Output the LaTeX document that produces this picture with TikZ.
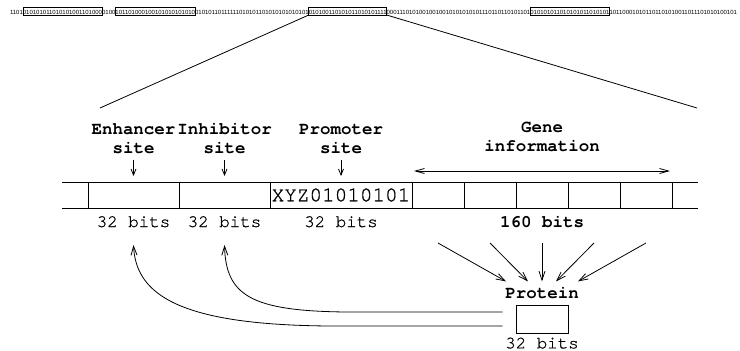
\documentclass[tikz,border=0pt]{standalone}
\usepackage{fontspec}
\setmonofont{texgyrecursor}[Extension=.otf,UprightFont=*-regular,BoldFont=*-bold,UprightFeatures={FakeBold=0.8}]
\newfontfamily\bitsfont{Liberation Sans}
\usetikzlibrary{arrows.meta,calc}
\begin{document}
\begin{tikzpicture}[x=1pt,y=-1pt,line width=0.8pt,
  seg/.style={inner sep=0pt,outer sep=0pt,text height=7pt,text depth=0.5pt,
    font=\bitsfont\fontsize{6}{6}\selectfont,anchor=base west},
  segbox/.style={seg,draw,line width=0.7pt},
  cell/.style={draw,minimum height=26pt,inner sep=0pt,outer sep=0pt},
  lbl/.style={font=\ttfamily\bfseries\fontsize{17.5}{18.5}\selectfont,align=center,inner sep=0pt,anchor=base},
  bits/.style={font=\ttfamily\fontsize{17.5}{18}\selectfont,inner sep=0pt,anchor=base},
  bbits/.style={bits,font=\ttfamily\bfseries\fontsize{17.5}{18}\selectfont},
  arr/.style={-{Straight Barb[length=9pt,width=6pt]}},
  sarr/.style={-{Straight Barb[length=6pt,width=5pt]}},
  darr/.style={{Straight Barb[length=9pt,width=5pt]}-{Straight Barb[length=9pt,width=5pt]}}]
\useasboundingbox (0,0) rectangle (740,351);
% top bit string
\node[seg] (s0) at (10,14.5) {1101};
\node[segbox] (b1) at (s0.base east) {010101011010101001101000};
\node[seg] (s1) at (b1.base east) {0100};
\node[segbox] (b2) at (s1.base east) {101101000100101010101010};
\node[seg] (s2) at (b2.base east) {01010110111111010101101010101010101};
\node[segbox] (b3) at (s2.base east) {010100110101011010101111};
\node[seg] (s3) at (b3.base east) {00011101010010010010101010101110110110101101};
\node[segbox] (b4) at (s3.base east) {010101011010101011010101};
\node[seg] (s4) at (b4.base east) {101100010101101101010011011101010100101};
\coordinate (tl) at (100,108);
\coordinate (tr) at (697,108);
\draw (b3.south west) -- (tl);
\draw (b3.south east) -- (tr);
% band
\draw (62,182) -- (698,182);
\draw (62,208) -- (698,208);
\node[cell,minimum width=91pt] (enh) at (133.5,195) {};
\node[cell,minimum width=91pt] (inh) at (224.5,195) {};
\node[cell,minimum width=142pt,font=\ttfamily\fontsize{21}{21}\selectfont] (prom) at (341,195) {XYZ01010101};
\node[cell,minimum width=52pt] (g1) at (438,195) {};
\node[cell,minimum width=52pt] (g2) at (490,195) {};
\node[cell,minimum width=52pt] (g3) at (542,195) {};
\node[cell,minimum width=52pt] (g4) at (594,195) {};
\node[cell,minimum width=52pt] (g5) at (646,195) {};
% labels
\node[lbl] (enhl) at (133.5,153) {Enhancer\\site};
\node[lbl] (inhl) at (224.5,153) {Inhibitor\\site};
\node[lbl] (proml) at (341,153) {Promoter\\site};
\node[lbl] (genel) at (542,151) {Gene\\information};
\draw[sarr,shorten >=6pt] ([yshift=-7pt]enhl.base) -- (enh.north);
\draw[sarr,shorten >=6pt] ([yshift=-7pt]inhl.base) -- (inh.north);
\draw[sarr,shorten >=6pt] ([yshift=-7pt]proml.base) -- (prom.north);
\draw[darr,shorten <=2pt,shorten >=2pt] ([yshift=11pt]g1.north west) -- ([yshift=11pt]g5.north east);
% sizes
\node[bits] (enhb) at ([yshift=-19pt]enh.south) {32 bits};
\node[bits] (inhb) at ([yshift=-19pt]inh.south) {32 bits};
\node[bits] (promb) at ([yshift=-19pt]prom.south) {32 bits};
\node[bbits] (geneb) at ([yshift=-19pt]g3.south) {160 bits};
% protein
\node[bbits] (protl) at (542,298) {Protein};
\node[draw,minimum width=52pt,minimum height=28pt,inner sep=0pt] (pbox) at (542,319) {};
\node[bits] (protb) at ([yshift=-15pt]pbox.south) {32 bits};
\draw[arr] ([yshift=-35pt]g1.south) -- ([xshift=-36pt,yshift=5pt]protl.north);
\draw[arr] ([yshift=-35pt]g2.south) -- ([xshift=-14pt,yshift=5pt]protl.north);
\draw[arr] ([yshift=-35pt]g3.south) -- ([yshift=5pt]protl.north);
\draw[arr] ([yshift=-35pt]g4.south) -- ([xshift=14pt,yshift=5pt]protl.north);
\draw[arr] ([yshift=-35pt]g5.south) -- ([xshift=36pt,yshift=5pt]protl.north);
\coordinate (c1) at ([xshift=-13pt,yshift=7pt]pbox.west);
\coordinate (c2) at ([xshift=-13pt,yshift=-7pt]pbox.west);
\draw[arr] (c1) -- (346,312) .. controls (250,311) and (226,295) .. ([yshift=-18pt]inhb.base);
\draw[arr] (c2) -- (330,326) .. controls (180,325) and (136,295) .. ([yshift=-18pt]enhb.base);
\end{tikzpicture}
\end{document}
